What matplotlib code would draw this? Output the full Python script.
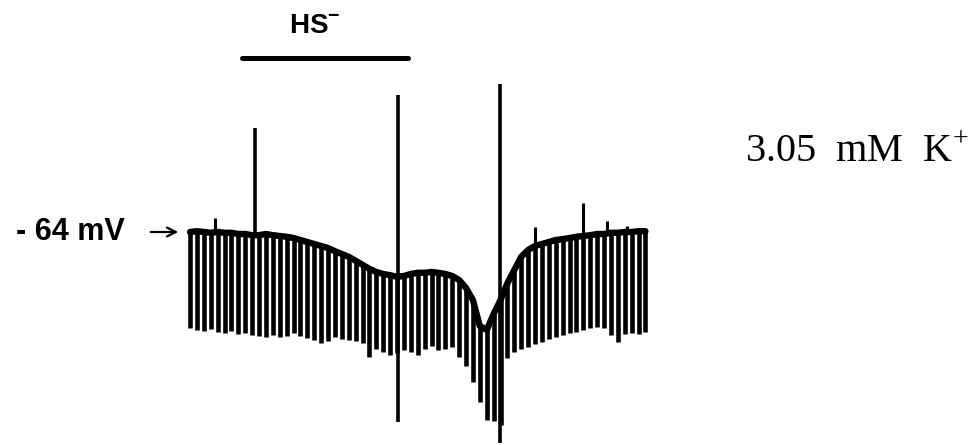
"""Membrane potential trace during HS- application (3.05 mM K+ bath).

Hyperpolarising current pulses are injected at a fixed interval; the top of the
trace is the resting potential, the downward deflections the pulse responses.
"""
import numpy as np
import matplotlib
matplotlib.use('Agg')
import matplotlib.pyplot as plt

PULSE_INTERVAL = 1.0  # s between current pulses

# resting potential just before each pulse (mV)
rest_mv = [
    -64.0, -63.8, -64.0, -64.2, -64.0, -64.2, -64.2, -64.5, -64.5, -64.8,
    -64.8, -64.5, -64.8, -65.0, -65.2, -65.5, -66.0, -66.5, -67.0, -67.5,
    -68.0, -68.8, -69.5, -70.2, -71.2, -72.2, -73.2, -74.0, -74.5, -74.8,
    -75.2, -75.0, -74.5, -74.2, -74.2, -74.0, -74.2, -74.5, -75.0, -76.0,
    -78.0, -81.0, -87.5, -88.5, -84.5, -81.0, -76.8, -73.5, -70.2, -68.5,
    -67.5, -67.0, -66.5, -66.0, -65.8, -65.5, -65.2, -65.0, -64.8, -64.5,
    -64.5, -64.2, -64.2, -64.0, -64.0, -63.8, -63.8,
]
# peak of each hyperpolarising response (mV)
pulse_peak_mv = [
    -88.0, -88.5, -88.8, -88.2, -89.0, -89.2, -88.8, -89.5, -89.2, -89.8,
    -90.0, -90.2, -89.8, -90.2, -90.0, -89.2, -90.0, -90.5, -91.0, -91.8,
    -91.2, -90.2, -90.8, -91.0, -91.2, -91.8, -95.2, -93.2, -94.0, -94.8,
    -94.2, -93.5, -94.0, -94.8, -93.2, -92.5, -93.5, -93.2, -92.8, -95.2,
    -97.5, -101.5, -106.5, -111.0, -111.2, -112.2, -95.5, -94.0, -93.2, -92.8,
    -92.0, -91.5, -90.8, -90.2, -89.8, -89.2, -89.0, -88.5, -88.0, -87.8,
    -88.0, -89.8, -91.5, -89.5, -89.2, -89.5, -89.0,
]

# fast transients (time s, top mV, bottom mV)
spike_t = [9.4, 30.1, 44.9]
spike_top_mv = [-38.0, -29.8, -27.0]
spike_bottom_mv = [-64.5, -111.5, -116.8]

# small upward noise blips on the resting trace
blip_t = [3.6, 50.0, 57.0, 60.4, 63.3]
blip_top_mv = [-60.5, -62.8, -56.8, -61.2, -62.5]
blip_base_mv = [-64.1, -67.5, -65.0, -64.5, -64.0]

# HS- application window (s)
hs_on, hs_off = 7.6, 31.6

pulse_t = np.arange(len(rest_mv)) * PULSE_INTERVAL

fig = plt.figure(figsize=(9.8, 4.45), dpi=100)
ax = fig.add_axes([0, 0, 1, 1])
ax.set_xlim(-27.54, 114.49)
ax.set_ylim(-117.25, -6.0)
ax.axis('off')

ax.vlines(pulse_t, pulse_peak_mv, rest_mv, color='black', lw=3.3)
ax.plot(pulse_t, rest_mv, color='black', lw=4.6, solid_capstyle='round',
        solid_joinstyle='round')
ax.vlines(spike_t, spike_bottom_mv, spike_top_mv, color='black', lw=2.6)
ax.vlines(blip_t, blip_base_mv, blip_top_mv, color='black', lw=2.2)

# application bar
ax.plot([hs_on, hs_off], [-20.5, -20.5], color='black', lw=3.6,
        solid_capstyle='round')
ax.text(14.4, -12.5, r'HS$^{\mathregular{-}}$',
        ha='left', va='center', fontsize=20, fontweight='bold',
        family='Liberation Sans')

# resting potential marker
ax.text(-9.4, -64.0, '- 64 mV', ha='right', va='center', fontsize=22,
        fontweight='bold', family='Liberation Sans')
ax.annotate('', xy=(-1.3, -64.0), xytext=(-6.1, -64.0),
            arrowprops=dict(arrowstyle='->', lw=1.6, color='black',
                            mutation_scale=16))

ax.text(80.4, -44.0, r'3.05  mM  K$^{\mathregular{+}}$', ha='left',
        va='center', fontsize=29, family='Liberation Serif')

fig.savefig('out.png', dpi=100)
